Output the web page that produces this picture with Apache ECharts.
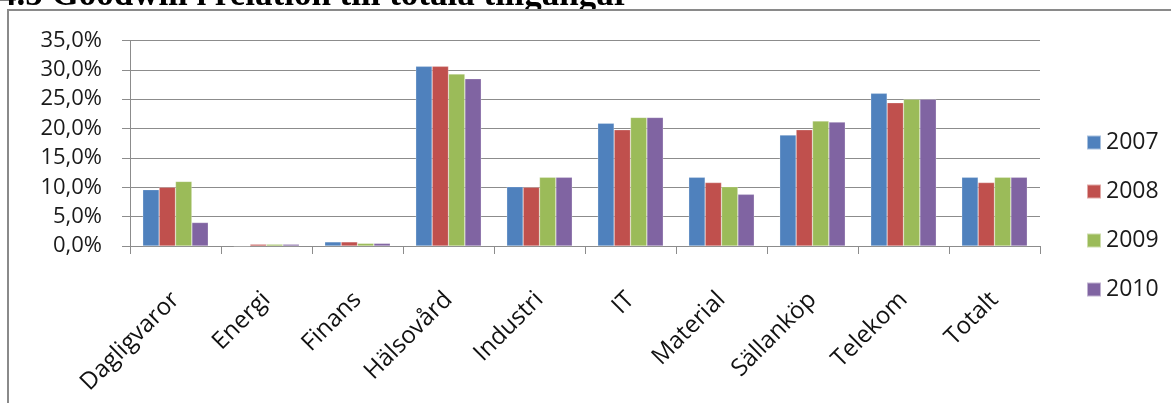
<!DOCTYPE html>
<html>
<head>
<meta charset="utf-8">
<script src="https://cdn.jsdelivr.net/npm/echarts@6/dist/echarts.min.js"></script>
<style>
  html, body { margin: 0; padding: 0; background: #fff; }
  #chart { width: 1171px; height: 403px; }
</style>
</head>
<body>
<div id="chart"></div>
<script>
// Goodwill as a share of total assets, per sector and year (%)
const categories = ['Dagligvaror', 'Energi', 'Finans', 'Hälsovård', 'Industri', 'IT', 'Material', 'Sällanköp', 'Telekom', 'Totalt'];
const years = ['2007', '2008', '2009', '2010'];
const v2007 = [9.6, 0.0, 0.7, 30.6, 10.1, 20.9, 11.7, 18.9, 26.0, 11.7];
const v2008 = [10.0, 0.3, 0.7, 30.6, 10.0, 19.8, 10.8, 19.8, 24.4, 10.8];
const v2009 = [11.0, 0.3, 0.45, 29.3, 11.7, 21.9, 10.1, 21.3, 25.0, 11.7];
const v2010 = [4.0, 0.3, 0.45, 28.5, 11.7, 21.9, 8.8, 21.1, 25.0, 11.7];
const yTicks = [0, 5, 10, 15, 20, 25, 30, 35];

const seriesValues = [v2007, v2008, v2009, v2010];
const colors = ['#4F81BD', '#C0504D', '#9BBB59', '#8064A2'];
const font = 'Open Sans';
const gridColor = '#8c8c8c';

const chart = echarts.init(document.getElementById('chart'), null, { renderer: 'canvas' });

chart.setOption({
  animation: false,
  backgroundColor: '#fff',
  graphic: [
    {
      type: 'text',
      x: -1,
      y: 13,
      z: 1,
      style: {
        text: '4.5 Goodwill i relation till totala tillgångar',
        fontFamily: 'Liberation Serif',
        fontWeight: 'bold',
        fontSize: 35,
        fill: '#000',
        textVerticalAlign: 'bottom'
      }
    },
    {
      type: 'rect',
      z: 2,
      shape: { x: 8, y: 10, width: 1300, height: 500 },
      style: { fill: 'none', stroke: '#8a8a8a', lineWidth: 2 }
    },
    {
      type: 'rect',
      z: 1,
      shape: { x: 0, y: 11, width: 1171, height: 6 },
      style: { fill: '#fff' }
    }
  ],
  legend: {
    orient: 'vertical',
    left: 1081,
    top: 126,
    itemWidth: 14,
    itemHeight: 14,
    itemGap: 26,
    icon: 'rect',
    textStyle: { fontFamily: font, fontSize: 23, color: '#1a1a1a', lineHeight: 23 },
    data: years
  },
  grid: { left: 130, right: 131, top: 40.5, bottom: 157, containLabel: false },
  xAxis: {
    type: 'category',
    data: categories,
    axisLine: { lineStyle: { color: gridColor, width: 1 } },
    axisTick: { show: true, length: 8, lineStyle: { color: gridColor } },
    axisLabel: {
      interval: 0,
      rotate: 45,
      margin: 50,
      fontFamily: font,
      fontSize: 24,
      color: '#111'
    }
  },
  yAxis: {
    type: 'value',
    min: yTicks[0],
    max: yTicks[yTicks.length - 1],
    interval: 5,
    axisLine: { show: true, lineStyle: { color: gridColor, width: 1 } },
    axisTick: { show: true, length: 8, lineStyle: { color: gridColor } },
    splitLine: { lineStyle: { color: gridColor, width: 1 } },
    axisLabel: {
      margin: 28,
      fontFamily: font,
      fontSize: 22,
      color: '#1a1a1a',
      formatter: v => v.toFixed(1).replace('.', ',') + '%'
    }
  },
  series: years.map((y, i) => ({
    name: y,
    type: 'bar',
    data: seriesValues[i],
    barGap: '0%',
    barCategoryGap: '28%',
    itemStyle: { color: colors[i], borderColor: 'rgba(255,255,255,0.5)', borderWidth: 0.5 }
  }))
});
</script>
</body>
</html>
